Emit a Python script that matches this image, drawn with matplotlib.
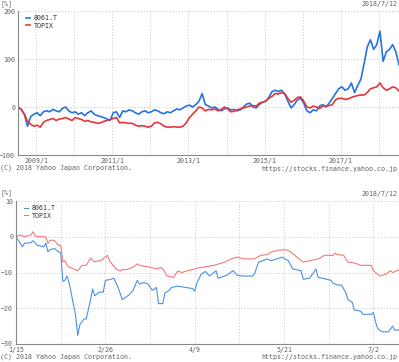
"""
8061.T vs TOPIX — 10 ans et 6 mois (style Yahoo Finance)
sortie : out.png
"""

import pandas as pd
import matplotlib.pyplot as plt
import matplotlib.dates as mdates
import matplotlib.ticker as mticker

# ── données : 10 ans, un point par mois (variation en %) ─────────────────
long_start, long_end = "2008-07-12", "2018-07-12"
long_8061 = [
    0, -5, -15, -40, -20, -15, -12, -18, -10, -8, -10, -5,
    -8, -10, -3, 0, -8, -12, -10, -15, -12, -18, -12, -8,
    -15, -18, -20, -22, -25, -28, -12, -10, -22, -8, -10, -6,
    -8, -12, -15, -10, -8, -12, -10, -6, -8, -12, -14, -10,
    -12, -8, -4, -6, -2, 2, 4, 0, 5, 12, 28, 5,
    2, -2, 0, -5, -8, -4, -2, -6, -5, -8, -6, 0,
    6, 8, 0, -2, 5, 10, 12, 20, 32, 35, 32, 35,
    27, 12, -2, 5, 15, 18, 8, -8, -12, -6, -8, 2,
    5, 0, 8, 18, 28, 38, 42, 35, 38, 50, 30, 45,
    58, 90, 125, 140, 120, 130, 158, 95, 115, 120, 130, 115,
    88,
]
long_topix = [
    0, -5, -15, -30, -36, -40, -38, -42, -32, -28, -26, -24,
    -28, -25, -24, -22, -25, -28, -22, -24, -26, -30, -28, -31,
    -32, -34, -33, -30, -28, -26, -24, -22, -33, -32, -33, -34,
    -34, -38, -40, -39, -40, -42, -40, -33, -32, -35, -40, -42,
    -42, -41, -42, -42, -40, -33, -22, -15, -8, 0, -2, -8,
    -5, -6, -4, -8, -5, 0, -4, -10, -9, -6, -4, -2,
    0, 2, 3, 2, 8, 10, 12, 18, 22, 28, 27, 30,
    28, 18, 10, 14, 20, 21, 12, 0, -2, 2, 0, -3,
    2, 2, 3, 5, 15, 18, 18, 16, 17, 20, 22, 24,
    25, 25, 30, 38, 40, 42, 50, 40, 35, 38, 42, 40,
    33,
]

# ── données : 6 mois, jours depuis le 15/1 (variation en %) ─────────────
short_days_8061 = [
    0, 3, 4, 7, 8, 10, 13, 14, 15, 16, 18, 20, 21, 22, 23, 24, 25, 26, 28,
    29, 30, 32, 33, 35, 36, 37, 39, 41, 42, 44, 46, 48, 50, 53, 55, 57, 58,
    60, 62, 64, 66, 67, 69, 70, 72, 73, 76, 80, 83, 84, 85, 87, 89, 91, 94,
    95, 99, 102, 104, 107, 111, 112, 114, 116, 118, 120, 125, 128, 130, 134,
    135, 138, 141, 142, 144, 148, 149, 151, 153, 155, 156, 158, 159, 162,
    163, 167, 168, 169, 170, 172, 175, 177, 178, 180,
]
short_8061 = [
    0, -2.8, -1.8, -1.7, -1.1, -2.4, -2.8, -1.8, -4.2, -3.6, -3.3, -4.2, -4.5,
    -12.5, -12.2, -11.0, -13.0, -15.9, -22.0,
    -27.6, -24.6, -23.0, -23.0, -17.7, -14.6, -16.5, -15.5, -15.5, -12.2,
    -12.0, -11.6, -14.2, -17.6, -16.3, -15.0, -12.2, -13.2,
    -12.8, -13.2, -15.0, -14.2, -18.7, -18.7, -15.7, -15.0, -14.2, -13.8,
    -14.2, -14.5, -15.2, -13.0, -10.5, -9.7, -11.0, -9.5,
    -11.6, -10.8, -9.5, -10.8, -11.0, -11.0, -10.5, -7.1, -6.7, -6.2, -6.7,
    -5.7, -6.7, -9.0, -9.5,
    -11.9, -11.6, -9.0, -11.4, -11.6, -12.2, -13.0, -13.5, -13.5, -15.7,
    -17.6, -18.3, -20.5, -20.8,
    -21.7, -21.7, -21.2, -23.9, -25.7, -26.6, -26.6, -25.0, -26.1, -26.1,
]
short_days_topix = [
    0, 2, 4, 7, 8, 9, 11, 14, 15, 16, 18, 20, 21, 22, 23, 24, 25, 29, 31,
    33, 35, 37, 40, 43, 44, 47, 49, 50, 52, 55, 57, 58, 63, 66, 68, 69, 71,
    74, 76, 78, 80, 83, 85, 87, 93, 98, 101, 104, 107, 112, 115, 118, 120,
    123, 127, 129, 132, 135, 138, 142, 145, 149, 150, 151, 154, 156, 159,
    162, 167, 168, 171, 174, 176, 177, 180,
]
short_topix = [
    0, 0.5, 0, 0.5, 1.4, 0.2, 0, 0, -1.9, -1.0, -1.0, -2.4, -2.4, -7.0,
    -6.7, -8.0, -8.5, -9.5, -8.0,
    -8.0, -6.0, -7.0, -6.6, -5.2, -6.8, -9.0, -9.6, -9.2, -9.2, -8.5, -7.6,
    -8.0, -8.5, -9.0, -8.6, -9.0, -11.0,
    -11.4, -9.6, -10.0, -9.6, -9.2, -8.8, -8.6, -8.0, -7.1, -6.2, -5.7, -6.2,
    -6.2, -5.2, -5.0, -4.3,
    -3.8, -3.6, -4.2, -5.7, -7.1, -6.7, -6.2, -5.2, -5.2, -4.6, -5.0, -5.2,
    -7.1, -7.3,
    -8.0, -8.0, -9.5, -11.0, -10.4, -9.5, -10.0, -9.3,
]
short_ticks = [0, 42, 84, 126, 168]
short_labels = ["1/15", "2/26", "4/9", "5/21", "7/2"]

BLUE_L, RED_L = "#2474e0", "#e8353b"
BLUE_S, RED_S = "#4d8fe8", "#f07a7a"
GRAY = "#606060"
GRID = "#c8c8c8"
FS = 4.8
MONO = "DejaVu Sans Mono"

plt.rcParams["font.family"] = MONO
plt.rcParams["font.size"] = FS

W, H = 399, 362
fig = plt.figure(figsize=(W / 100, H / 100), dpi=100, facecolor="white")


def box(left, top, right, bottom):
    # coordonnées pixels -> fraction de figure
    return [left / W, 1 - bottom / H, (right - left) / W, (bottom - top) / H]


def style(ax):
    for s in ["top", "right"]:
        ax.spines[s].set_visible(False)
    for s in ["left", "bottom"]:
        ax.spines[s].set_color("#888888")
        ax.spines[s].set_linewidth(0.8)
    ax.tick_params(length=0, pad=2, labelsize=FS, colors=GRAY)
    ax.grid(True, color=GRID, linestyle=(0, (1, 2)), linewidth=0.7)
    ax.set_axisbelow(True)


# ── graphique 10 ans ────────────────────────────────────────────────────
ax1 = fig.add_axes(box(18, 11, 399, 155))
dates = pd.date_range(long_start, long_end, periods=len(long_8061))
ax1.plot(dates, long_8061, color=BLUE_L, linewidth=1.2, label="8061.T")
ax1.plot(dates, long_topix, color=RED_L, linewidth=1.2, label="TOPIX")
ax1.set_xlim(pd.Timestamp(long_start), pd.Timestamp(long_end))
ax1.set_ylim(-100, 200)
ax1.yaxis.set_major_locator(mticker.MultipleLocator(100))
ax1.xaxis.set_major_locator(mdates.YearLocator(1))
ax1.xaxis.set_major_formatter(mticker.FuncFormatter(
    lambda v, _: f"{mdates.num2date(v).year}/1" if mdates.num2date(v).year % 2 else ""))
style(ax1)
ax1.legend(loc="upper left", bbox_to_anchor=(0.01, 1.0), frameon=False,
           handlelength=0.6, handletextpad=0.6, labelspacing=0.25,
           fontsize=FS, labelcolor="#333333", borderaxespad=0.2)

fig.text(0 / W, 1 - 4 / H, "[%]", color=GRAY, fontsize=FS, va="center")
fig.text(397 / W, 1 - 4 / H, "2018/7/12", color=GRAY, fontsize=FS,
         va="center", ha="right")
fig.text(0 / W, 1 - 168 / H, "(C) 2018 Yahoo Japan Corporation.",
         color=GRAY, fontsize=FS, va="center")
fig.text(397 / W, 1 - 169 / H, "https://stocks.finance.yahoo.co.jp",
         color=GRAY, fontsize=FS, va="center", ha="right")

# ── graphique 6 mois ────────────────────────────────────────────────────
ax2 = fig.add_axes(box(16, 201, 399, 344))
ax2.plot(short_days_8061, short_8061, color=BLUE_S, linewidth=0.8, label="8061.T")
ax2.plot(short_days_topix, short_topix, color=RED_S, linewidth=0.8, label="TOPIX")
ax2.set_xlim(0, 180)
ax2.set_ylim(-30, 10)
ax2.yaxis.set_major_locator(mticker.MultipleLocator(10))
ax2.set_xticks(range(0, 180, 21))
ax2.set_xticklabels([short_labels[short_ticks.index(t)] if t in short_ticks else ""
                     for t in range(0, 180, 21)])
style(ax2)
ax2.legend(loc="upper left", bbox_to_anchor=(0.01, 1.0), frameon=False,
           handlelength=0.6, handletextpad=0.6, labelspacing=0.25,
           fontsize=FS, labelcolor="#333333", borderaxespad=0.2)

fig.text(0 / W, 1 - 193 / H, "[%]", color=GRAY, fontsize=FS, va="center")
fig.text(397 / W, 1 - 194 / H, "2018/7/12", color=GRAY, fontsize=FS,
         va="center", ha="right")
fig.text(0 / W, 1 - 357 / H, "(C) 2018 Yahoo Japan Corporation.",
         color=GRAY, fontsize=FS, va="center")
fig.text(397 / W, 1 - 357 / H, "https://stocks.finance.yahoo.co.jp",
         color=GRAY, fontsize=FS, va="center", ha="right")

fig.savefig("out.png", dpi=100, facecolor="white")
